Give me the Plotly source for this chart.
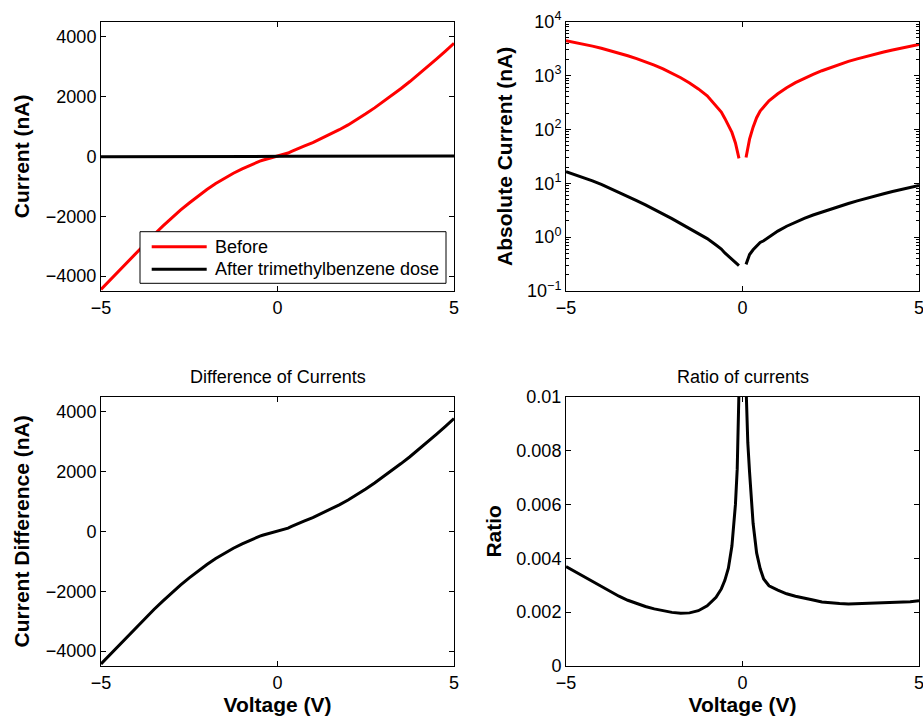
import numpy as np
import plotly.graph_objects as go

# Bias sweep (V) and measured currents (nA) before / after the trimethylbenzene dose
voltage = [-5.0, -4.75, -4.5, -4.25, -4.0, -3.75, -3.5, -3.25, -3.0, -2.75, -2.5, -2.25,
           -2.0, -1.75, -1.5, -1.25, -1.0, -0.75, -0.6, -0.5, -0.4, -0.3, -0.2, -0.15, -0.1,
           0.0,
           0.1, 0.15, 0.2, 0.3, 0.4, 0.5, 0.6, 0.75, 1.0, 1.25, 1.5, 1.75, 2.0, 2.25, 2.5,
           2.75, 3.0, 3.25, 3.5, 3.75, 4.0, 4.25, 4.5, 4.75, 5.0]

current_before = [-4450, -4140, -3830, -3525, -3220, -2920, -2620, -2335, -2060, -1800, -1560, -1325,
                  -1110, -910, -730, -565, -420, -280, -210, -160, -122, -88, -56, -42, -29,
                  0,
                  30, 48, 66, 110, 165, 220, 265, 340, 460, 595, 740, 890, 1050, 1230, 1420,
                  1620, 1830, 2045, 2270, 2500, 2740, 2990, 3250, 3510, 3780]

current_after = [-16.42, -14.53, -12.75, -11.07, -9.50, -8.06, -6.79, -5.70, -4.78, -3.98, -3.31, -2.72,
                 -2.21, -1.78, -1.44, -1.16, -0.94, -0.714, -0.601, -0.509, -0.443, -0.392, -0.336, -0.307, -0.296,
                 0.0,
                 0.312, 0.398, 0.475, 0.583, 0.693, 0.796, 0.856, 1.013, 1.297, 1.595, 1.917, 2.234, 2.573, 2.927, 3.323,
                 3.758, 4.209, 4.724, 5.266, 5.825, 6.412, 7.056, 7.703, 8.389, 9.148]

series_names = ["Before", "After trimethylbenzene dose"]

x_ticks = [-5, 0, 5]
x_tick_text = ["\u22125", "0", "5"]
lin_ticks = [-4000, -2000, 0, 2000, 4000]
lin_tick_text = ["\u22124000", "\u22122000", "0", "2000", "4000"]
log_ticks = [0.1, 1, 10, 100, 1000, 10000]
log_tick_text = ["10<sup>\u22121</sup>", "10<sup>0</sup>", "10<sup>1</sup>",
                 "10<sup>2</sup>", "10<sup>3</sup>", "10<sup>4</sup>"]
ratio_ticks = [0, 0.002, 0.004, 0.006, 0.008, 0.01]
ratio_tick_text = ["0", "0.002", "0.004", "0.006", "0.008", "0.01"]

V = np.array(voltage, dtype=float)
I_before = np.array(current_before, dtype=float)
I_after = np.array(current_after, dtype=float)

nonzero = I_before != 0
difference = I_before - I_after
ratio = np.full_like(I_before, np.nan)
ratio[nonzero] = I_after[nonzero] / I_before[nonzero]
abs_before = np.where(nonzero, np.abs(I_before), np.nan)
abs_after = np.where(I_after != 0, np.abs(I_after), np.nan)


def as_list(a):
    return [None if np.isnan(v) else float(v) for v in a]


FONT = "Liberation Sans, Arial, Helvetica, sans-serif"
RED = "#ff0000"
BLACK = "#000000"
W, H = 923, 724


def px_x(x0, x1):
    return [x0 / W, x1 / W]


def px_y(top, bottom):
    return [1 - bottom / H, 1 - top / H]


fig = go.Figure()

# Top-left: linear I-V
fig.add_trace(go.Scatter(x=V, y=I_before, mode="lines", name=series_names[0], showlegend=False,
                         line=dict(color=RED, width=3), xaxis="x", yaxis="y"))
fig.add_trace(go.Scatter(x=V, y=I_after, mode="lines", name=series_names[1], showlegend=False,
                         line=dict(color=BLACK, width=3), xaxis="x", yaxis="y"))

# Top-right: absolute current on log scale
fig.add_trace(go.Scatter(x=V, y=as_list(abs_before), mode="lines", showlegend=False,
                         line=dict(color=RED, width=3), xaxis="x2", yaxis="y2"))
fig.add_trace(go.Scatter(x=V, y=as_list(abs_after), mode="lines", showlegend=False,
                         line=dict(color=BLACK, width=3), xaxis="x2", yaxis="y2"))

# Bottom-left: difference
fig.add_trace(go.Scatter(x=V, y=difference, mode="lines", showlegend=False,
                         line=dict(color=BLACK, width=3), xaxis="x3", yaxis="y3"))

# Bottom-right: ratio
fig.add_trace(go.Scatter(x=V, y=as_list(ratio), mode="lines", showlegend=False,
                         line=dict(color=BLACK, width=3), xaxis="x4", yaxis="y4"))


def axis_style(**kw):
    d = dict(showline=True, linecolor="black", linewidth=1, mirror="ticks",
             ticks="inside", ticklen=5, tickwidth=1, tickcolor="black",
             showgrid=False, zeroline=False, automargin=False,
             ticklabeloverflow="allow",
             tickfont=dict(family=FONT, size=18, color="black"))
    d.update(kw)
    return d


def x_axis(domain, anchor, title=None):
    kw = dict(domain=domain, anchor=anchor, range=[-5, 5],
              tickmode="array", tickvals=x_ticks, ticktext=x_tick_text)
    if title:
        kw["title"] = dict(text="<b>" + title + "</b>", standoff=4,
                           font=dict(family=FONT, size=21, color="black"))
    return axis_style(**kw)


def y_title(text, standoff):
    return dict(text="<b>" + text + "</b>", standoff=standoff,
                font=dict(family=FONT, size=21, color="black"))


left_x = px_x(101, 454)
right_x = px_x(566, 919)
top_y = px_y(21.7, 291)
bottom_y = px_y(396.7, 666)

minor_log = [k * 10.0 ** e for e in range(-1, 4) for k in range(2, 10)]

# Boxed legend in the lower part of the top-left panel (MATLAB style, long line samples)
legend_box = dict(x0=140, x1=446, y0=231.7, y1=283.3)
legend_rows = [246.7, 269.3]
legend_colors = [RED, BLACK]

shapes = [dict(type="rect", xref="paper", yref="paper",
               x0=legend_box["x0"] / W, x1=legend_box["x1"] / W,
               y0=1 - legend_box["y1"] / H, y1=1 - legend_box["y0"] / H,
               fillcolor="white", line=dict(color="black", width=1), layer="above")]
annotations = []
for name, color, row in zip(series_names, legend_colors, legend_rows):
    shapes.append(dict(type="line", xref="paper", yref="paper",
                       x0=151.7 / W, x1=206.7 / W, y0=1 - row / H, y1=1 - row / H,
                       line=dict(color=color, width=3), layer="above"))
    annotations.append(dict(text=name, x=212.5 / W, y=1 - row / H, xref="paper", yref="paper",
                            showarrow=False, xanchor="left", yanchor="middle",
                            font=dict(family=FONT, size=18, color="black")))

annotations += [
    dict(text="Difference of Currents", x=sum(left_x) / 2, y=1 - 377 / H,
         xref="paper", yref="paper", showarrow=False, xanchor="center", yanchor="middle",
         font=dict(family=FONT, size=18, color="black")),
    dict(text="Ratio of currents", x=sum(right_x) / 2, y=1 - 377 / H,
         xref="paper", yref="paper", showarrow=False, xanchor="center", yanchor="middle",
         font=dict(family=FONT, size=18, color="black")),
]

fig.update_layout(
    width=W, height=H, autosize=False,
    margin=dict(l=0, r=0, t=0, b=0, autoexpand=False),
    paper_bgcolor="white", plot_bgcolor="white",
    font=dict(family=FONT, size=18, color="black"),
    showlegend=False,
    xaxis=x_axis(left_x, "y"),
    yaxis=axis_style(domain=top_y, anchor="x", range=[-4500, 4500],
                     tickmode="array", tickvals=lin_ticks, ticktext=lin_tick_text,
                     title=y_title("Current (nA)", 10)),
    xaxis2=x_axis(right_x, "y2"),
    yaxis2=axis_style(domain=top_y, anchor="x2", type="log", range=[-1, 4],
                      tickmode="array", tickvals=log_ticks, ticktext=log_tick_text,
                      minor=dict(ticks="inside", ticklen=3, tickcolor="black",
                                 tickmode="array", tickvals=minor_log),
                      title=y_title("Absolute Current (nA)", 8)),
    xaxis3=x_axis(left_x, "y3", "Voltage (V)"),
    yaxis3=axis_style(domain=bottom_y, anchor="x3", range=[-4500, 4500],
                      tickmode="array", tickvals=lin_ticks, ticktext=lin_tick_text,
                      title=y_title("Current Difference (nA)", 10)),
    xaxis4=x_axis(right_x, "y4", "Voltage (V)"),
    yaxis4=axis_style(domain=bottom_y, anchor="x4", range=[0, 0.01],
                      tickmode="array", tickvals=ratio_ticks, ticktext=ratio_tick_text,
                      title=y_title("Ratio", 8)),
    shapes=shapes,
    annotations=annotations,
)

fig.write_html("out.html")
